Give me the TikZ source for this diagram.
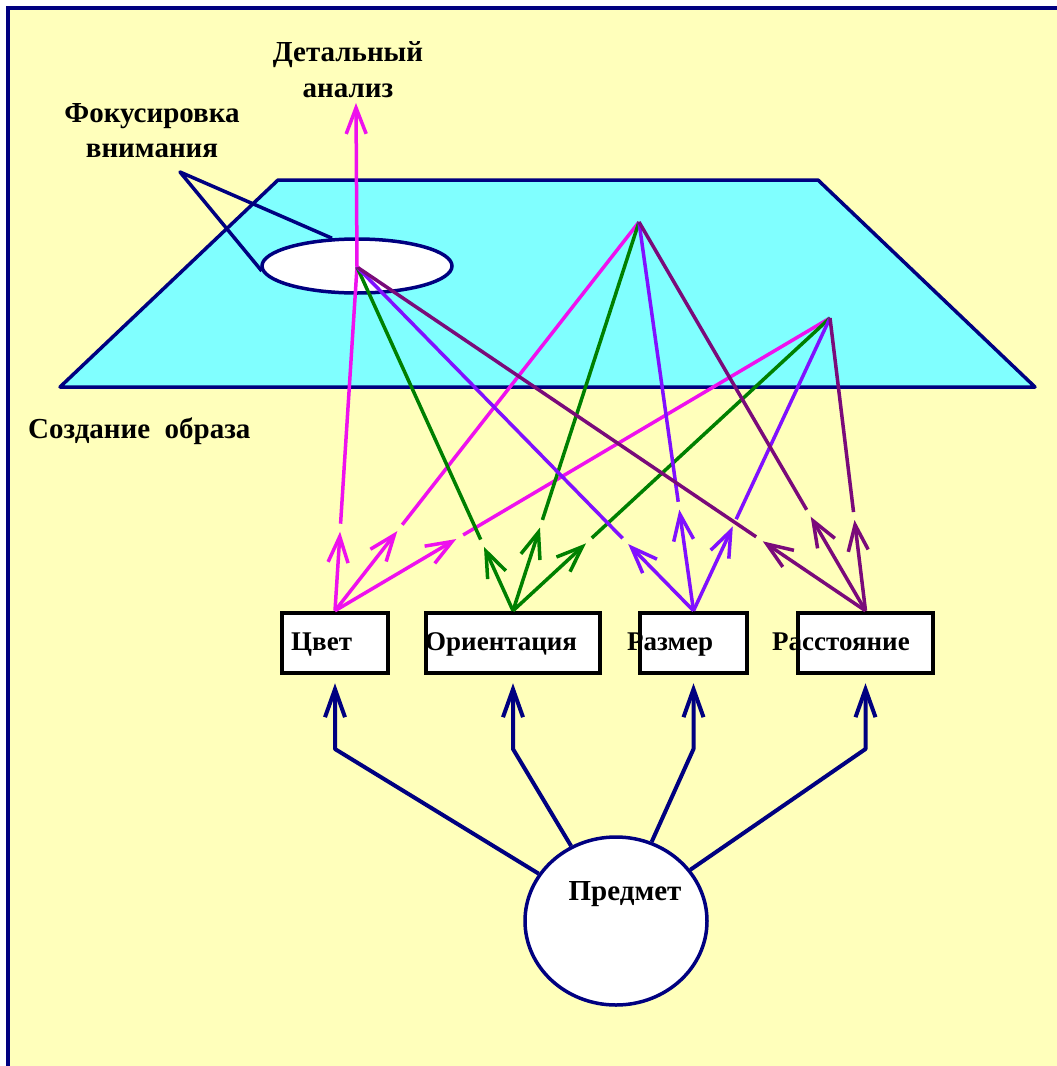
\documentclass[tikz,border=0pt]{standalone}
\usepackage{fontspec}
\setmainfont{Liberation Serif}
\usetikzlibrary{arrows.meta,calc,shapes.geometric}

\definecolor{bgyellow}{HTML}{FFFFBB}
\definecolor{planecyan}{HTML}{80FFFF}
\definecolor{navy}{HTML}{000080}
\definecolor{cmag}{HTML}{EE11EE}
\definecolor{cgreen}{HTML}{008000}
\definecolor{cviolet}{HTML}{8010FF}
\definecolor{cpurple}{HTML}{7A0A7A}

\tikzset{
  lbl/.style={font=\bfseries\fontsize{29}{31}\selectfont, inner sep=0pt},
  boxlbl/.style={font=\bfseries\fontsize{27}{30}\selectfont, inner sep=0pt, anchor=base west},
  featbox/.style={draw=black, fill=white, line width=4.5pt, inner sep=0pt, minimum height=60pt},
  plane/.style={draw=navy, fill=planecyan, line width=3.5pt, line join=round},
  navyline/.style={draw=navy, line width=3.5pt, line join=round},
  link/.style={line width=3.5pt},
  barb/.style={-{Straight Barb[length=26pt,width=20pt]}},
  feed/.style={draw=navy, line width=4pt, line join=round,
    -{Straight Barb[length=28pt,width=20pt]}, shorten >=8pt},
}

\begin{document}
\begin{tikzpicture}[x=1pt,y=-1pt]
\useasboundingbox (0,0) rectangle (1057,1066);

% page, background and frame
\fill[white] (0,0) rectangle (1057,1066);
\fill[bgyellow] (6,6) rectangle (1057,1066);
\fill[navy] (6,6) rectangle (1057,10);
\fill[navy] (6,6) rectangle (10,1066);

% image plane
\draw[plane] (278,180) -- (818,180) -- (1035,387) -- (60,387) -- cycle;

% focus of attention
\node[ellipse, draw=navy, fill=white, line width=3.5pt, inner sep=0pt,
      minimum width=190pt, minimum height=54pt] (focus) at (357,266) {};
\coordinate (fk) at (180,172);
\draw[navyline] (focus.132) -- (fk) -- (focus.183);

% points on the plane
\coordinate (P1) at (357,267);
\coordinate (P2) at (639,222);
\coordinate (P3) at (830,318);
\coordinate (up) at (356,103);

% feature boxes
\node[featbox, minimum width=106pt] (bC) at (335,643) {};
\node[featbox, minimum width=174pt] (bO) at (513,643) {};
\node[featbox, minimum width=107pt] (bR) at (693.5,643) {};
\node[featbox, minimum width=135pt] (bD) at (865.5,643) {};

% feature links to the plane
\foreach \s/\d/\t/\c in {
  bC/P1/0.23/cmag, bC/P2/0.205/cmag, bC/P3/0.245/cmag,
  bO/P1/0.186/cgreen, bO/P2/0.214/cgreen, bO/P3/0.23/cgreen,
  bR/P1/0.194/cviolet, bR/P2/0.26/cviolet, bR/P3/0.288/cviolet,
  bD/P1/0.202/cpurple, bD/P2/0.242/cpurple, bD/P3/0.31/cpurple}{
  \coordinate (tip) at ($(\s.north)!\t!(\d)$);
  \draw[link, draw=\c, barb] (\s.north) -- (tip);
  \draw[link, draw=\c] ($(tip)!8pt!(\d)$) -- (\d);
}
\draw[link, draw=cmag, barb] (P1) -- (up);

% labels
\node[lbl, anchor=base] (det1) at (348,61) {Детальный};
\node[lbl, anchor=base] (det2) at (348,97) {анализ};
\node[lbl, anchor=base] (foc1) at (152,122) {Фокусировка};
\node[lbl, anchor=base] (foc2) at (152,157) {внимания};
\node[lbl, anchor=base west] (img) at (28,438) {Создание\ \ образа};

\node[boxlbl] (tC) at (291,650) {Цвет};
\node[boxlbl] (tO) at (425,650) {Ориентация};
\node[boxlbl] (tR) at (627,650) {Размер};
\node[boxlbl] (tD) at (772,650) {Расстояние};

% the object
\node[ellipse, draw=navy, fill=white, line width=3.5pt, inner sep=0pt,
      minimum width=182pt, minimum height=168pt] (obj) at (616,921) {};
\node[lbl, anchor=base] (tObj) at (625,900) {Предмет};

\coordinate (eC) at (335,749);
\coordinate (eO) at (513,749);
\coordinate (eR) at (693.5,749);
\coordinate (eD) at (865.5,749);
\draw[feed] (obj) -- (eC) -- (bC.south);
\draw[feed] (obj) -- (eO) -- (bO.south);
\draw[feed] (obj) -- (eR) -- (bR.south);
\draw[feed] (obj) -- (eD) -- (bD.south);
\end{tikzpicture}
\end{document}
